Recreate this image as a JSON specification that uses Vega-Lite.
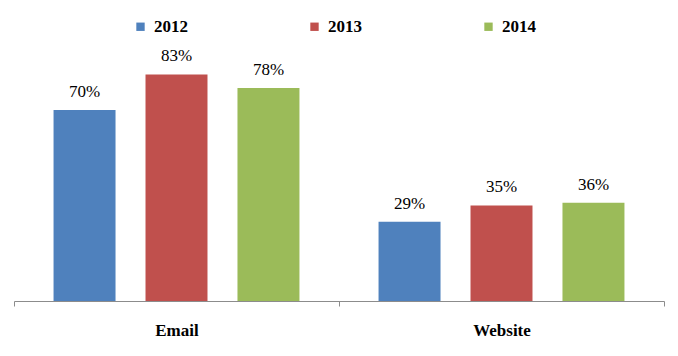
{
  "$schema": "https://vega.github.io/schema/vega-lite/v6.json",
  "width": 650,
  "height": 273,
  "autosize": "none",
  "padding": {"left": 14, "top": 28, "right": 14, "bottom": 55},
  "background": "white",
  "config": {
    "view": {"stroke": null},
    "font": "Times New Roman, Liberation Serif, serif"
  },
  "data": {
    "values": [
      {"channel": "Email", "year": "2012", "value": 0.70, "label": "70%"},
      {"channel": "Email", "year": "2013", "value": 0.83, "label": "83%"},
      {"channel": "Email", "year": "2014", "value": 0.78, "label": "78%"},
      {"channel": "Website", "year": "2012", "value": 0.29, "label": "29%"},
      {"channel": "Website", "year": "2013", "value": 0.35, "label": "35%"},
      {"channel": "Website", "year": "2014", "value": 0.36, "label": "36%"}
    ]
  },
  "encoding": {
    "x": {
      "field": "channel",
      "type": "nominal",
      "scale": {"paddingInner": 0, "paddingOuter": 0},
      "axis": {
        "title": null,
        "labelAngle": 0,
        "labelFont": "Times New Roman, Liberation Serif, serif",
        "labelFontSize": 17,
        "labelFontWeight": "bold",
        "labelColor": "black",
        "labelPadding": 16,
        "domainColor": "#8c8c8c",
        "tickColor": "#8c8c8c",
        "tickSize": 5,
        "tickBand": "extent"
      }
    },
    "xOffset": {
      "field": "year",
      "type": "nominal",
      "scale": {"paddingInner": 0.326, "paddingOuter": 0.43}
    },
    "y": {
      "field": "value",
      "type": "quantitative",
      "scale": {"domain": [0, 1]},
      "axis": null
    }
  },
  "layer": [
    {
      "mark": {"type": "bar"},
      "encoding": {
        "color": {
          "field": "year",
          "type": "nominal",
          "scale": {"domain": ["2012", "2013", "2014"], "range": ["#4F81BD", "#C0504D", "#9BBB59"]},
          "legend": {
            "title": null,
            "orient": "none",
            "legendX": 118,
            "legendY": -10,
            "direction": "horizontal",
            "symbolType": "square",
            "symbolSize": 70,
            "symbolStrokeWidth": 0,
            "labelFont": "Times New Roman, Liberation Serif, serif",
            "labelFontSize": 17,
            "labelFontWeight": "bold",
            "labelColor": "black",
            "labelOffset": 5,
            "columnPadding": 118
          }
        }
      }
    },
    {
      "mark": {"type": "text", "baseline": "bottom", "dy": -9, "font": "Times New Roman, Liberation Serif, serif", "fontSize": 17, "color": "black"},
      "encoding": {
        "text": {"field": "label"}
      }
    }
  ]
}
